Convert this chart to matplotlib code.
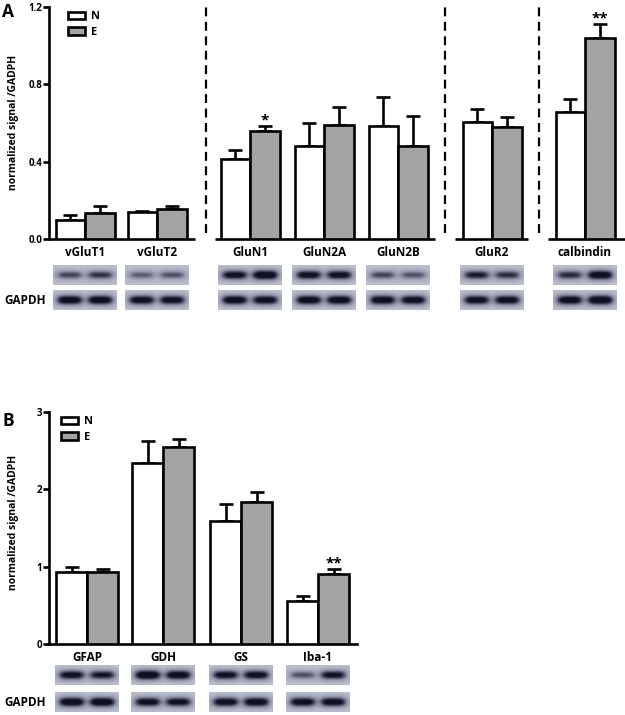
import numpy as np
import matplotlib
matplotlib.use("Agg")
import matplotlib.pyplot as plt
from matplotlib.colors import LinearSegmentedColormap

plt.rcParams['font.family'] = ['Open Sans', 'DejaVu Sans']
plt.rcParams['font.weight'] = 'bold'

# ---- data: panel A ----
genes_A = ['vGluT1', 'vGluT2', 'GluN1', 'GluN2A', 'GluN2B', 'GluR2', 'calbindin']
N_mean_A = [0.098, 0.138, 0.414, 0.481, 0.585, 0.605, 0.659]
N_err_A = [0.026, 0.008, 0.048, 0.117, 0.148, 0.067, 0.064]
E_mean_A = [0.134, 0.154, 0.560, 0.590, 0.481, 0.581, 1.038]
E_err_A = [0.036, 0.018, 0.026, 0.094, 0.155, 0.052, 0.072]
sig_A = {'GluN1': '*', 'calbindin': '**'}

# ---- data: panel B ----
genes_B = ['GFAP', 'GDH', 'GS', 'Iba-1']
N_mean_B = [0.927, 2.34, 1.595, 0.56]
N_err_B = [0.063, 0.28, 0.215, 0.06]
E_mean_B = [0.93, 2.545, 1.83, 0.90]
E_err_B = [0.036, 0.103, 0.13, 0.07]
sig_B = {'Iba-1': '**'}

# blot band strength (N lane, E lane)
blot_A = [[0.6, 0.68], [0.5, 0.55], [0.88, 1.0], [0.88, 0.88], [0.6, 0.55], [0.78, 0.7], [0.72, 0.95]]
gapdh_A = [[0.95, 0.95], [0.92, 0.9], [0.95, 0.92], [0.95, 0.95], [0.95, 0.92], [0.92, 0.92], [0.95, 1.0]]
blot_B = [[0.88, 0.82], [1.0, 0.95], [0.88, 0.9], [0.55, 0.85]]
gapdh_B = [[0.98, 0.98], [0.9, 0.88], [0.92, 0.95], [0.92, 0.92]]

W, H = 625, 715
fig = plt.figure(figsize=(W / 100, H / 100), dpi=100)

grey = '#a3a3a6'
lw = 1.9


def px_axes(left, right, top, bottom):
    return fig.add_axes([left / W, 1 - bottom / H, (right - left) / W, (bottom - top) / H])


def draw_bars(ax, centers, nm, ne, em, ee, bw):
    cx = np.array(centers, dtype=float)
    ax.bar(cx - bw / 2, nm, bw, color='white', edgecolor='black', linewidth=lw, zorder=3, label='N')
    ax.bar(cx + bw / 2, em, bw, color=grey, edgecolor='black', linewidth=lw, zorder=3, label='E')
    z = np.zeros(len(cx))
    ax.errorbar(cx - bw / 2, nm, yerr=[z, ne], fmt='none', ecolor='black',
                elinewidth=lw, capsize=5, capthick=lw, zorder=2)
    ax.errorbar(cx + bw / 2, em, yerr=[z, ee], fmt='none', ecolor='black',
                elinewidth=lw, capsize=5, capthick=lw, zorder=2)


def style_axis(ax, centers, labels):
    for s in ['top', 'right']:
        ax.spines[s].set_visible(False)
    ax.spines['left'].set_linewidth(lw)
    ax.spines['bottom'].set_linewidth(lw)
    ax.tick_params(axis='y', width=lw, length=4, labelsize=7, pad=1)
    ax.set_xticks(centers)
    ax.set_xticklabels(labels, fontsize=8.5, fontweight='bold')
    ax.tick_params(axis='x', length=0, pad=5)
    ax.legend(frameon=False, loc='upper left', bbox_to_anchor=(0.025, 1.0),
              handlelength=1.5, handleheight=0.7, handletextpad=0.6,
              labelspacing=0.4, borderaxespad=0, fontsize=8)


def add_stars(ax, centers, genes, em, ee, bw, sig):
    for i, g in enumerate(genes):
        if g in sig:
            ax.annotate(sig[g], (centers[i] + bw / 2, em[i] + ee[i]),
                        xytext=(0, -1), textcoords='offset points', ha='center',
                        va='bottom', fontsize=11, fontweight='bold')


# ---- panel A ----
axA = px_axes(49, 625, 7, 239)
cA = [85, 157, 250, 324, 398, 492, 585]
draw_bars(axA, cA, N_mean_A, N_err_A, E_mean_A, E_err_A, 29.5)
axA.set_xlim(49, 625)
axA.set_ylim(0, 1.2)
axA.set_yticks([0, 0.4, 0.8, 1.2])
axA.set_yticklabels(['0.0', '0.4', '0.8', '1.2'])
style_axis(axA, cA, genes_A)
axA.spines['bottom'].set_visible(False)
for x0, x1 in [(49, 195), (215, 435), (455, 528), (548, 625)]:
    axA.plot([x0, x1], [0, 0], color='black', lw=lw, clip_on=False, solid_capstyle='butt')
for xd in [206, 445, 539]:
    axA.plot([xd, xd], [0.03, 1.2], color='black', lw=1.6, ls=(0, (4, 2.5)), clip_on=False)
add_stars(axA, cA, genes_A, E_mean_A, E_err_A, 29.5, sig_A)

# ---- panel B ----
axB = px_axes(49, 357, 412, 644)
cB = [87, 163, 241, 318]
draw_bars(axB, cB, N_mean_B, N_err_B, E_mean_B, E_err_B, 31)
axB.set_xlim(49, 357)
axB.set_ylim(0, 3)
axB.set_yticks([0, 1, 2, 3])
style_axis(axB, cB, genes_B)
add_stars(axB, cB, genes_B, E_mean_B, E_err_B, 31, sig_B)

# ---- overlay for blots and free text (pixel coordinates) ----
ov = fig.add_axes([0, 0, 1, 1], zorder=-1)
ov.axis('off')

blot_cmap = LinearSegmentedColormap.from_list('blot', ['#d2d5e0', '#8a8da3', '#101024'])


def blot_image(strengths, w=128, h=40):
    xx = np.linspace(0, 1, w)[None, :]
    yy = np.linspace(0, 1, h)[:, None]
    img = 0.14 + 0.07 * np.exp(-((yy - 0.5) / 0.45) ** 2)
    for cx, s in zip([0.26, 0.74], strengths):
        hprof = np.exp(-(np.abs(xx - cx) / 0.21) ** 4)
        vprof = np.exp(-((yy - 0.5) / (0.14 + 0.12 * s)) ** 2)
        img = img + s * hprof * vprof
    return np.clip(img, 0, 1)


def draw_blots(centers, tops, gaps, y_top, y_gap, half=32):
    for c, s1, s2 in zip(centers, tops, gaps):
        ov.imshow(blot_image(s1), cmap=blot_cmap, vmin=0, vmax=1, aspect='auto',
                  extent=(c - half, c + half, y_top + 20, y_top), interpolation='bilinear')
        ov.imshow(blot_image(s2), cmap=blot_cmap, vmin=0, vmax=1, aspect='auto',
                  extent=(c - half, c + half, y_gap + 20, y_gap), interpolation='bilinear')


draw_blots(cA, blot_A, gapdh_A, 265, 290)
draw_blots(cB, blot_B, gapdh_B, 665, 692)
ov.set_xlim(0, W)
ov.set_ylim(H, 0)

ov.text(25, 300, 'GAPDH', ha='center', va='center', fontsize=8.5)
ov.text(25, 702, 'GAPDH', ha='center', va='center', fontsize=8.5)
ov.text(2, 12, 'A', ha='left', va='center', fontsize=12.5, fontweight='bold')
ov.text(2, 421, 'B', ha='left', va='center', fontsize=12.5, fontweight='bold')
ov.text(14, 122, 'normalized signal /GADPH', rotation=90, ha='center', va='center', fontsize=7.5)
ov.text(14, 522, 'normalized signal /GADPH', rotation=90, ha='center', va='center', fontsize=7.5)

fig.savefig('out.png', dpi=100, facecolor='white')
